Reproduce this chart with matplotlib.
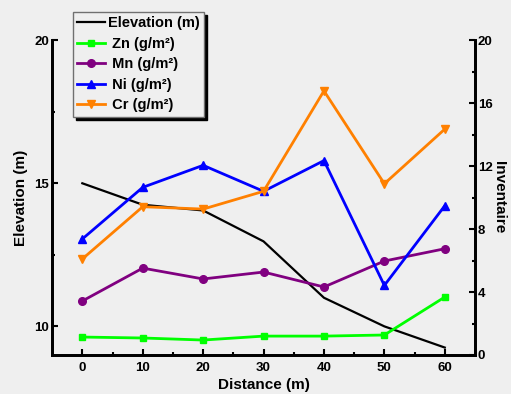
import matplotlib.pyplot as plt

plt.rcParams['font.family'] = ['Liberation Sans', 'DejaVu Sans']
plt.rcParams['font.weight'] = 'bold'

# distance along the profile (m)
distance = [0, 10, 20, 30, 40, 50, 60]
elevation = [15.0, 14.25, 14.05, 12.97, 11.0, 10.0, 9.26]

# inventories (g/m2)
zn = [1.14, 1.08, 0.95, 1.2, 1.2, 1.27, 3.68]
mn = [3.43, 5.52, 4.83, 5.27, 4.32, 5.97, 6.75]
ni = [7.37, 10.65, 12.05, 10.4, 12.35, 4.42, 9.48]
cr = [6.1, 9.42, 9.27, 10.4, 16.78, 10.88, 14.35]

bg = '#efefef'
fig = plt.figure(figsize=(5.11, 3.94), dpi=100, facecolor=bg)
ax = fig.add_axes([0.102, 0.099, 0.8275, 0.799])
ax.set_facecolor(bg)
ax2 = ax.twinx()

l0, = ax.plot(distance, elevation, color='black', lw=1.6, label='Elevation (m)')
l1, = ax2.plot(distance, zn, color='#00ff00', lw=2, marker='s', ms=5, label=' Zn (g/m²)')
l2, = ax2.plot(distance, mn, color='#800080', lw=2, marker='o', ms=5.5, label=' Mn (g/m²)')
l3, = ax2.plot(distance, ni, color='#0000ff', lw=2, marker='^', ms=6, label=' Ni (g/m²)')
l4, = ax2.plot(distance, cr, color='#ff8000', lw=2, marker='v', ms=6, label=' Cr (g/m²)')

ax.set_xlim(-5, 65)
ax.set_ylim(9, 20)
ax2.set_ylim(0, 20)
ax.set_xticks([0, 10, 20, 30, 40, 50, 60])
ax.set_xticks([5, 15, 25, 35, 45, 55], minor=True)
ax.set_yticks([10, 15, 20])
ax.set_yticks([12.5, 17.5], minor=True)
ax2.set_yticks([0, 4, 8, 12, 16, 20])
ax2.set_yticks([2, 6, 10, 14, 18], minor=True)

for a in (ax, ax2):
    a.spines['top'].set_visible(False)
    for s in ('left', 'bottom', 'right'):
        a.spines[s].set_linewidth(2)
    a.tick_params(which='major', direction='in', length=4, width=1.5, labelsize=9.5, pad=2)
    a.tick_params(which='minor', direction='in', length=2.5, width=1.5)
ax.tick_params(axis='x', pad=5)

ax.set_xlabel('Distance (m)', fontsize=11, fontweight='bold', labelpad=3)
ax.set_ylabel('Elevation (m)', fontsize=11, fontweight='bold', labelpad=5)
ax2.set_ylabel('Inventaire', fontsize=11, fontweight='bold', rotation=270, labelpad=10)

leg = ax2.legend(handles=[l0, l1, l2, l3, l4], loc='upper left',
                 bbox_to_anchor=(0.143, 0.97), bbox_transform=fig.transFigure,
                 fancybox=False, shadow={'color': 'black', 'alpha': 1},
                 facecolor=bg, edgecolor='#707070', framealpha=1,
                 fontsize=10.5, numpoints=1, handlelength=1.9, handletextpad=0.2,
                 borderpad=0.3, labelspacing=0.45, borderaxespad=0)
leg.get_frame().set_linewidth(1)
for t in leg.get_texts():
    t.set_fontweight('bold')

fig.savefig('out.png', dpi=100, facecolor=bg)
